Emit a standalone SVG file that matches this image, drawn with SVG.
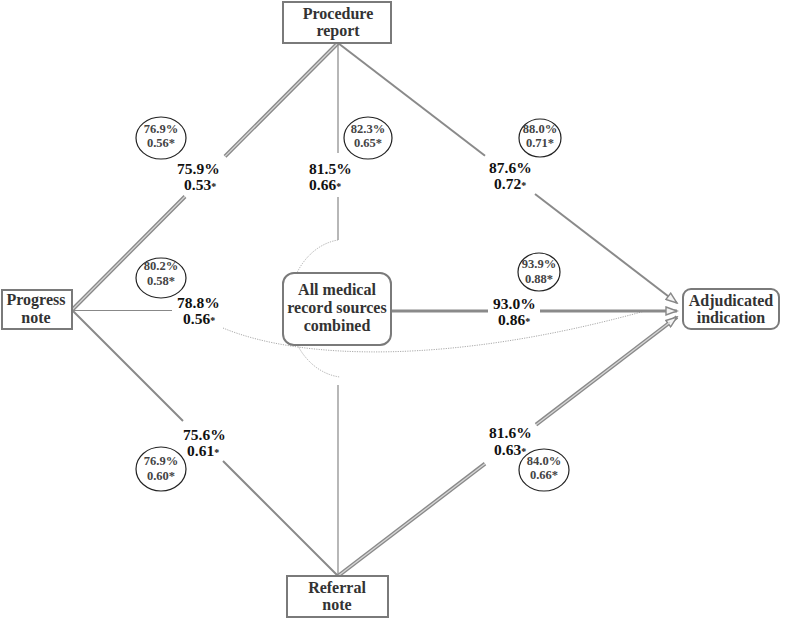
<svg xmlns="http://www.w3.org/2000/svg" width="785" height="629" viewBox="0 0 785 629">
<defs>
<marker id="arr" markerUnits="userSpaceOnUse" markerWidth="14" markerHeight="10" refX="12" refY="5" orient="auto">
<path d="M1,1 L12,5 L1,9 z" fill="#f4f4f4" stroke="#888" stroke-width="1.4"/>
</marker>
<style>
.box{fill:#fff;stroke:#7a7a7a;stroke-width:2}
.nt{font-family:'Liberation Serif','Times New Roman','DejaVu Serif',serif;font-weight:bold;font-size:16px;fill:#333;text-anchor:middle}
.lb{font-family:'Liberation Serif','Times New Roman','DejaVu Serif',serif;font-weight:bold;font-size:15.5px;fill:#111}
.st{font-size:10px}
.el{fill:#fff;stroke:#222;stroke-width:1.2}
.et{font-family:'Liberation Serif','Times New Roman','DejaVu Serif',serif;font-weight:bold;font-size:12.5px;fill:#444;text-anchor:middle}
.dbl{stroke:#8a8a8a;stroke-width:4;fill:none}
.dbli{stroke:#d6d6d6;stroke-width:1.3;fill:none}
.sgl{stroke:#8a8a8a;stroke-width:2;fill:none}
.thin{stroke:#888;stroke-width:1.2;fill:none}
.dot{stroke:#aaa;stroke-width:1;stroke-dasharray:1.2 1.2;fill:none}
</style>
</defs>
<g id="connectors">
<path class="dbl" d="M72,310 L185,196.5 M225,156.4 L338,43"/>
<path class="dbli" d="M72,310 L185,196.5 M225,156.4 L338,43"/>
<path class="sgl" d="M338,43 L485,155.7"/>
<path class="sgl" d="M535,194 L677,303" marker-end="url(#arr)"/>
<path class="thin" d="M338,43 L338,153 M338,197 L338,240"/>
<path class="dot" d="M338,240 A57,69 0 0 0 340,377"/>
<path class="thin" d="M338,385 L338,576"/>
<path class="thin" d="M72,310.5 L172,310.5" stroke-width="1.4"/>
<path class="dot" d="M223,328 C300,360 450,365 645,311"/>
<path d="M391,311 L488,311" stroke="#8a8a8a" stroke-width="3" fill="none"/>
<path d="M540,311 L677,311" stroke="#8a8a8a" stroke-width="3" fill="none" marker-end="url(#arr)"/>
<path class="sgl" d="M72,310 L183,421 M223,461 L338,576"/>
<path class="dbl" d="M338,576 L485,463.7"/>
<path class="dbli" d="M338,576 L485,463.7"/>
<path class="dbl" d="M536,424.7 L677,317" marker-end="url(#arr)"/>
<path class="dbli" d="M536,424.7 L670,322.3"/>
</g>
<g id="procedure">
<rect class="box" x="283" y="2" width="108" height="41"/>
<text class="nt" x="338" y="19">Procedure</text>
<text class="nt" x="338" y="36">report</text>
</g>
<g id="progress">
<rect class="box" x="2" y="290" width="70" height="39"/>
<text class="nt" x="36" y="305">Progress</text>
<text class="nt" x="36" y="323">note</text>
</g>
<g id="adjudicated">
<rect class="box" x="683" y="289" width="96" height="40" rx="8"/>
<text class="nt" x="731" y="306">Adjudicated</text>
<text class="nt" x="731" y="323">indication</text>
</g>
<g id="combined">
<rect class="box" x="283" y="273" width="108" height="72" rx="11"/>
<text class="nt" x="337" y="295" font-size="15.5">All medical</text>
<text class="nt" x="337" y="313" font-size="15.5">record sources</text>
<text class="nt" x="337" y="331" font-size="15.5">combined</text>
</g>
<g id="referral">
<rect class="box" x="287" y="576" width="101" height="41"/>
<text class="nt" x="337" y="593">Referral</text>
<text class="nt" x="337" y="610">note</text>
</g>
<g id="labels">
<text class="lb" x="177" y="174">75.9%</text>
<text class="lb" x="184" y="190">0.53<tspan class="st">*</tspan></text>
<text class="lb" x="309" y="174">81.5%</text>
<text class="lb" x="309" y="190">0.66<tspan class="st">*</tspan></text>
<text class="lb" x="489" y="173">87.6%</text>
<text class="lb" x="494" y="189">0.72<tspan class="st">*</tspan></text>
<text class="lb" x="177" y="308">78.8%</text>
<text class="lb" x="183" y="324">0.56<tspan class="st">*</tspan></text>
<text class="lb" x="493" y="309">93.0%</text>
<text class="lb" x="498" y="325">0.86<tspan class="st">*</tspan></text>
<text class="lb" x="183" y="440">75.6%</text>
<text class="lb" x="187" y="456">0.61<tspan class="st">*</tspan></text>
<text class="lb" x="489" y="438">81.6%</text>
<text class="lb" x="494" y="455">0.63<tspan class="st">*</tspan></text>
</g>
<g id="ellipses">
<ellipse class="el" cx="161" cy="138" rx="25" ry="21"/>
<text class="et" x="161" y="133">76.9%</text>
<text class="et" x="161" y="147">0.56*</text>
<ellipse class="el" cx="368" cy="138" rx="24" ry="21"/>
<text class="et" x="368" y="133">82.3%</text>
<text class="et" x="368" y="147">0.65*</text>
<ellipse class="el" cx="540" cy="138" rx="21" ry="19"/>
<text class="et" x="540" y="133">88.0%</text>
<text class="et" x="540" y="147">0.71*</text>
<ellipse class="el" cx="161" cy="278" rx="25" ry="20"/>
<text class="et" x="161" y="270">80.2%</text>
<text class="et" x="161" y="285">0.58*</text>
<ellipse class="el" cx="539" cy="272" rx="21" ry="19"/>
<text class="et" x="539" y="268">93.9%</text>
<text class="et" x="539" y="283">0.88*</text>
<ellipse class="el" cx="161" cy="469" rx="25" ry="22"/>
<text class="et" x="161" y="465">76.9%</text>
<text class="et" x="161" y="480">0.60*</text>
<ellipse class="el" cx="544" cy="470" rx="25" ry="21"/>
<text class="et" x="544" y="465">84.0%</text>
<text class="et" x="544" y="479">0.66*</text>
</g>
</svg>
